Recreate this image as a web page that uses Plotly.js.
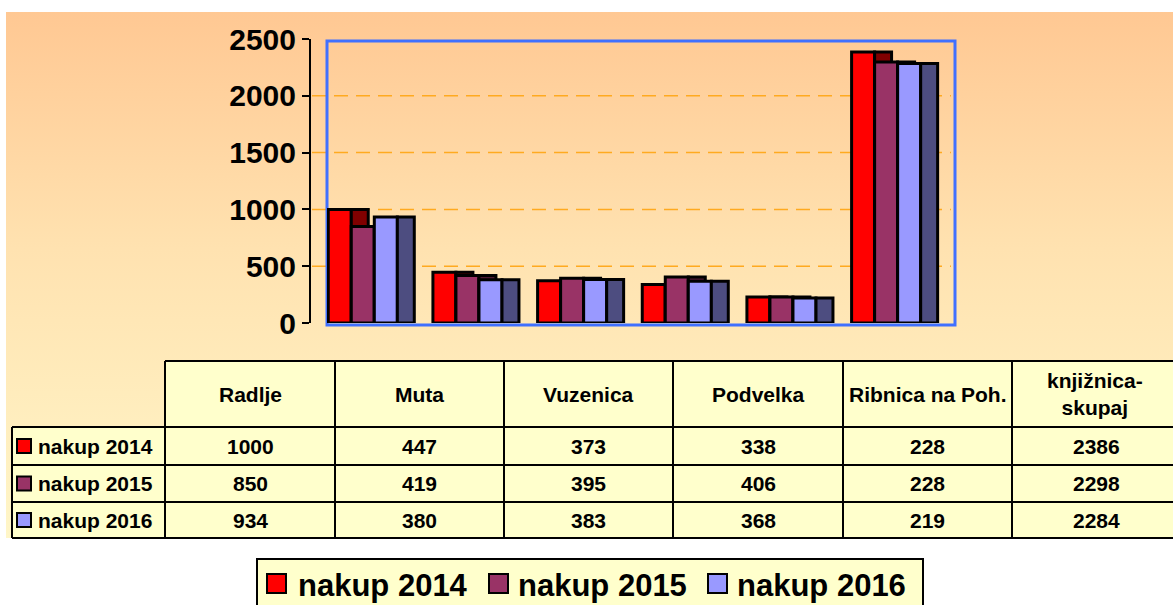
<!DOCTYPE html>
<html>
<head>
<meta charset="utf-8">
<script src="https://cdn.plot.ly/plotly-3.0.1.min.js"></script>
<style>
  html, body { margin: 0; padding: 0; background: #ffffff; }
  #bg { position: absolute; left: 6px; top: 12px; width: 1167px; height: 526px;
        background: linear-gradient(to bottom, #FFC893 0%, #FFE2B0 45%, #FFF6C8 100%); }
  #chart { position: absolute; left: 0; top: 0; width: 1173px; height: 605px; }
</style>
</head>
<body>
<div id="bg"></div>
<div id="chart"></div>
<script>
// ---- data ----
const categories = ["Radlje", "Muta", "Vuzenica", "Podvelka", "Ribnica na Poh.", "knjižnica-skupaj"];
const seriesNames = ["nakup 2014", "nakup 2015", "nakup 2016"];
const nakup2014 = [1000, 447, 373, 338, 228, 2386];
const nakup2015 = [850, 419, 395, 406, 228, 2298];
const nakup2016 = [934, 380, 383, 368, 219, 2284];
const yTickValues = [0, 500, 1000, 1500, 2000, 2500];

// ---- style ----
const W = 1173, H = 605;
const px = x => x / W;
const py = y => 1 - y / H;
const frontColors = ["#FF0000", "#993366", "#9999FF"];
const sideColors = ["#800000", "#4D1A33", "#4D4D80"];
const FONT = 'Arial, "Liberation Sans", sans-serif';
const seriesValues = [nakup2014, nakup2015, nakup2016];

const frontW = 0.22, sideW = 0.162, start = -0.488;
const traces = [];
seriesValues.forEach((vals, k) => {
  const off = start + k * frontW;
  traces.push({
    type: "bar", x: categories, y: vals, name: seriesNames[k],
    offset: off, width: frontW,
    marker: { color: frontColors[k], line: { color: "#000", width: 3 } },
    showlegend: false, hoverinfo: "x+y+name"
  });
  traces.push({
    type: "bar", x: categories, y: vals, name: seriesNames[k],
    offset: off + frontW, width: sideW,
    marker: { color: sideColors[k], line: { color: "#000", width: 3 } },
    showlegend: false, hoverinfo: "skip"
  });
});

const shapes = [];
const annotations = [];

// plot-area gridlines (dashed orange) at tick values
yTickValues.filter(v => v > 0 && v < 2500).forEach(v => {
  shapes.push({ type: "line", layer: "below", xref: "paper", yref: "y",
    x0: px(312), x1: px(951), y0: v, y1: v,
    line: { color: "#FFAA20", width: 1.5, dash: "14px,8px" } });
});
// blue wall border
shapes.push({ type: "rect", layer: "below", xref: "paper", yref: "paper",
  x0: px(327), x1: px(955), y0: py(325), y1: py(41),
  line: { color: "#4070FF", width: 3 }, fillcolor: "rgba(0,0,0,0)" });

// ---- data table ----
const colEdges = [165, 335, 504, 673, 843, 1012, 1181];
const rowEdges = [361, 427, 465, 502, 538];
const cellFill = "#FFFFCC";
shapes.push({ type: "rect", layer: "above", xref: "paper", yref: "paper",
  x0: px(165), x1: px(1180), y0: py(427), y1: py(361), fillcolor: cellFill, line: { width: 0 } });
shapes.push({ type: "rect", layer: "above", xref: "paper", yref: "paper",
  x0: px(12), x1: px(1180), y0: py(538), y1: py(427), fillcolor: cellFill, line: { width: 0 } });
const tl = { color: "#000", width: 2 };
shapes.push({ type: "line", xref: "paper", yref: "paper", x0: px(165), x1: px(1180), y0: py(361), y1: py(361), line: tl });
rowEdges.slice(1).forEach(y => shapes.push({ type: "line", xref: "paper", yref: "paper",
  x0: px(12), x1: px(1180), y0: py(y), y1: py(y), line: tl }));
shapes.push({ type: "line", xref: "paper", yref: "paper", x0: px(12), x1: px(12), y0: py(427), y1: py(538), line: tl });
colEdges.slice(0, 6).forEach(x => shapes.push({ type: "line", xref: "paper", yref: "paper",
  x0: px(x), x1: px(x), y0: py(361), y1: py(538), line: tl }));

const tFont = { family: FONT, size: 21, color: "#000", weight: 700 };
categories.forEach((c, i) => {
  const cx = (colEdges[i] + colEdges[i + 1]) / 2;
  annotations.push({ xref: "paper", yref: "paper", x: px(cx - (i === 5 ? 2 : 0)), y: py(394),
    text: c.replace("-", "-<br>"), showarrow: false, font: tFont,
    xanchor: "center", yanchor: "middle" });
});
seriesValues.forEach((vals, k) => {
  const cy = (rowEdges[k + 1] + rowEdges[k + 2]) / 2;
  shapes.push({ type: "rect", xref: "paper", yref: "paper",
    x0: px(17), x1: px(31), y0: py(cy + 7), y1: py(cy - 7),
    fillcolor: frontColors[k], line: { color: "#000", width: 2 } });
  annotations.push({ xref: "paper", yref: "paper", x: px(36), y: py(cy),
    text: seriesNames[k], showarrow: false, font: tFont, xanchor: "left", yanchor: "middle" });
  vals.forEach((v, i) => {
    const cx = (colEdges[i] + colEdges[i + 1]) / 2;
    annotations.push({ xref: "paper", yref: "paper", x: px(cx), y: py(cy),
      text: String(v), showarrow: false, font: tFont, xanchor: "center", yanchor: "middle" });
  });
});

// ---- bottom legend ----
shapes.push({ type: "rect", xref: "paper", yref: "paper",
  x0: px(257), x1: px(923), y0: py(625), y1: py(559),
  fillcolor: cellFill, line: { color: "#000", width: 2 } });
const legKeyX = [267, 489, 708];
const legTextX = [296, 516, 735];
seriesNames.forEach((n, k) => {
  shapes.push({ type: "rect", xref: "paper", yref: "paper",
    x0: px(legKeyX[k]), x1: px(legKeyX[k] + 19), y0: py(593), y1: py(574),
    fillcolor: frontColors[k], line: { color: "#000", width: 2 } });
  annotations.push({ xref: "paper", yref: "paper", x: px(legTextX[k]), y: py(585),
    text: n, showarrow: false, xanchor: "left", yanchor: "middle",
    font: { family: FONT, size: 31, color: "#000", weight: 700 } });
});

const layout = {
  width: W, height: H,
  margin: { l: 0, r: 0, t: 0, b: 0 },
  paper_bgcolor: "rgba(0,0,0,0)", plot_bgcolor: "rgba(0,0,0,0)",
  barmode: "overlay", showlegend: false,
  xaxis: { type: "category", range: [-0.5, 5.5], domain: [px(327), px(955)],
    showticklabels: false, showgrid: false, zeroline: false, showline: false, ticks: "" },
  yaxis: { range: [0, 2500], domain: [py(323), py(39)], anchor: "free", position: px(310),
    tickvals: yTickValues, ticktext: yTickValues.map(String),
    showgrid: false, zeroline: false, showline: true, linecolor: "#000", linewidth: 2,
    ticks: "outside", ticklen: 7, tickwidth: 2, tickcolor: "#000",
    tickfont: { family: FONT, size: 30, color: "#000", weight: 700 } },
  shapes: shapes, annotations: annotations
};
Plotly.newPlot("chart", traces, layout, { displayModeBar: false, staticPlot: true });
</script>
</body>
</html>
